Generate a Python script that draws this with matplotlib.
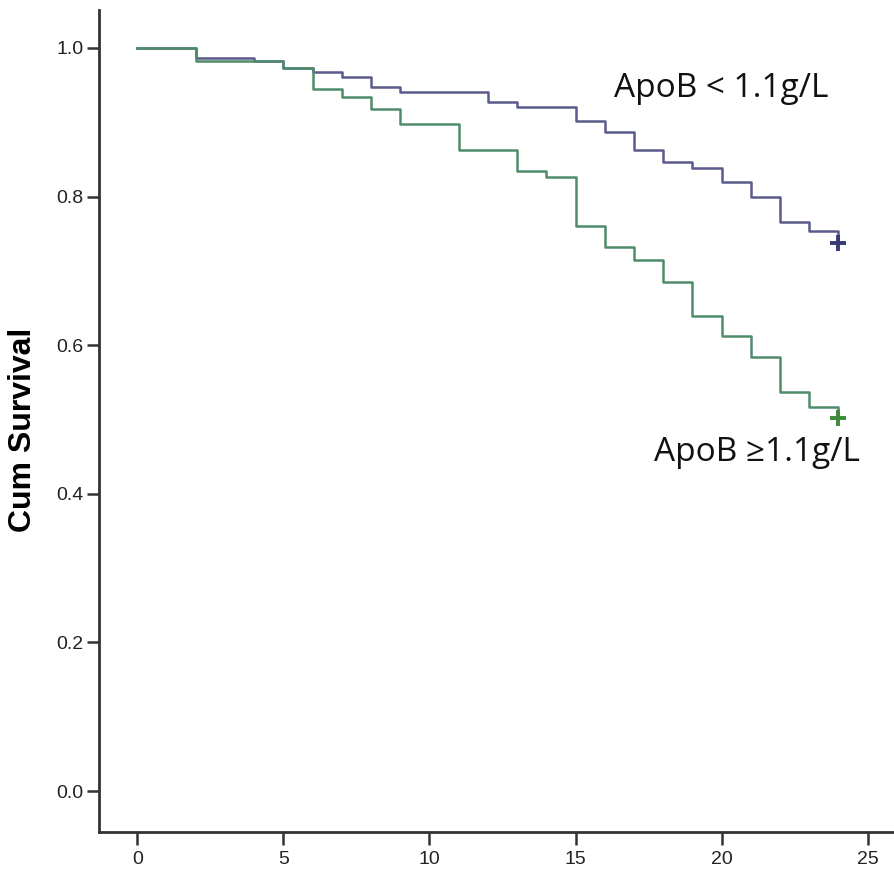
import matplotlib
matplotlib.use("Agg")
import matplotlib.pyplot as plt

# Data
time_low = [0, 2, 4, 5, 6, 7, 8, 9, 12, 13, 15, 16, 17, 18, 19, 20, 21, 22, 23, 24]
surv_low = [1.0, 0.986, 0.982, 0.973, 0.968, 0.961, 0.947, 0.940, 0.927, 0.921,
            0.901, 0.887, 0.862, 0.847, 0.839, 0.820, 0.800, 0.766, 0.753, 0.738]
time_high = [0, 2, 5, 6, 7, 8, 9, 11, 13, 14, 15, 16, 17, 18, 19, 20, 21, 22, 23, 24]
surv_high = [1.0, 0.982, 0.973, 0.945, 0.934, 0.918, 0.898, 0.862, 0.834, 0.826,
             0.760, 0.732, 0.714, 0.685, 0.639, 0.612, 0.584, 0.537, 0.517, 0.502]
label_low = "ApoB < 1.1g/L"
label_high = "ApoB \u22651.1g/L"
x_ticks = [0, 5, 10, 15, 20, 25]
y_ticks = [0.0, 0.2, 0.4, 0.6, 0.8, 1.0]

c_low = "#5a5a8c"
c_high = "#4f8c6a"

fig = plt.figure(figsize=(8.94, 8.69), dpi=100)
ax = fig.add_axes([99/894, 37/869, 795/894, 822/869])

ax.step(time_low, surv_low, where="post", color=c_low, lw=1.8)
ax.step(time_high, surv_high, where="post", color=c_high, lw=1.8)
ax.plot(time_low[-1], surv_low[-1], marker="+", color="#3a3a78", ms=12, mew=2.8)
ax.plot(time_high[-1], surv_high[-1], marker="+", color="#3c8a3c", ms=12, mew=2.8)

ax.set_xlim(-1.31, 25.9)
ax.set_ylim(-0.055, 1.051)
ax.set_xticks(x_ticks)
ax.set_yticks(y_ticks)
ax.set_xticklabels([str(v) for v in x_ticks])
ax.set_yticklabels([f"{v:.1f}" for v in y_ticks])

fam = ["Liberation Sans", "DejaVu Sans"]
for lab in ax.get_xticklabels() + ax.get_yticklabels():
    lab.set_family(fam)
    lab.set_fontsize(14)
    lab.set_color("#222222")

ax.tick_params(axis="x", length=9, width=1.8, color="#333333", pad=5)
ax.tick_params(axis="y", length=9, width=1.8, color="#333333", pad=2)

for s in ["top", "right"]:
    ax.spines[s].set_visible(False)
for s in ["left", "bottom"]:
    ax.spines[s].set_linewidth(2)
    ax.spines[s].set_color("#333333")

ax.set_ylabel("Cum Survival", fontsize=23, fontweight="bold",
              family=["Liberation Sans", "DejaVu Sans"], va="center")
ax.yaxis.set_label_coords(-0.0957, 0.489)

tfam = ["Open Sans", "Noto Sans", "DejaVu Sans"]
ax.text(16.33, 0.946, label_low, fontsize=24, family=tfam, color="#111111",
        va="center", ha="left")
ax.text(17.69, 0.455, label_high, fontsize=24, family=tfam, color="#111111",
        va="center", ha="left")

fig.savefig("out.png", dpi=100, facecolor="white")
